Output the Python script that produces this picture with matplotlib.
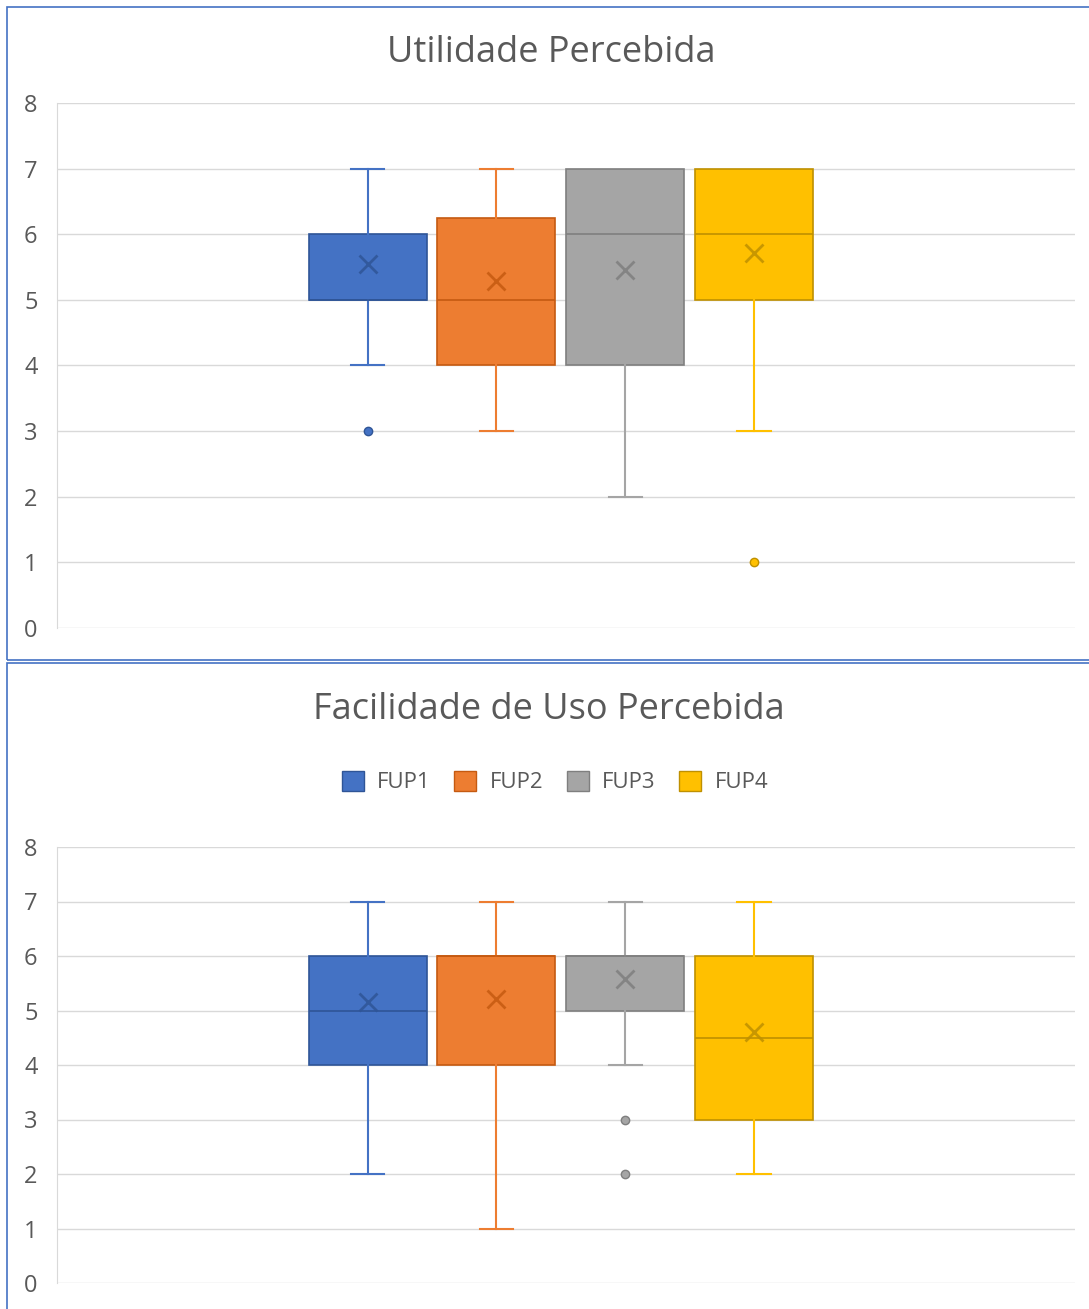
import matplotlib.pyplot as plt
from matplotlib.patches import Patch, Rectangle

plt.rcParams['font.family'] = ['Open Sans', 'DejaVu Sans']

categories = ['FUP1', 'FUP2', 'FUP3', 'FUP4']
fill_colors = ['#4472C4', '#ED7D31', '#A5A5A5', '#FFC000']
edge_colors = ['#2F5597', '#C55A11', '#7F7F7F', '#BF9000']

# Utilidade Percebida
up_q1 = [5, 4, 4, 5]
up_med = [5, 5, 6, 6]
up_q3 = [6, 6.25, 7, 7]
up_lo = [4, 3, 2, 3]
up_hi = [7, 7, 7, 7]
up_mean = [5.55, 5.28, 5.45, 5.72]
up_fliers = [[3], [], [], [1]]

# Facilidade de Uso Percebida
fup_q1 = [4, 4, 5, 3]
fup_med = [5, 6, 6, 4.5]
fup_q3 = [6, 6, 6, 6]
fup_lo = [2, 1, 4, 2]
fup_hi = [7, 7, 7, 7]
fup_mean = [5.15, 5.22, 5.58, 4.6]
fup_fliers = [[], [], [3, 2], []]

W, H = 1089, 1309
fig = plt.figure(figsize=(W / 100, H / 100), dpi=100)
text_color = '#595959'


def draw_boxes(ax, q1, med, q3, lo, hi, mean, fliers):
    positions = range(1, len(categories) + 1)
    for i, pos in enumerate(positions):
        stats = [dict(q1=q1[i], med=med[i], q3=q3[i], whislo=lo[i], whishi=hi[i],
                      mean=mean[i], fliers=fliers[i])]
        fc, ec = fill_colors[i], edge_colors[i]
        parts = ax.bxp(stats, positions=[pos], widths=0.915, capwidths=0.26,
                       patch_artist=True, showmeans=True, manage_ticks=False,
                       boxprops=dict(facecolor=fc, edgecolor=ec, linewidth=1.2),
                       medianprops=dict(color=ec, linewidth=1.2),
                       whiskerprops=dict(color=fc, linewidth=1.5),
                       capprops=dict(color=fc, linewidth=1.5),
                       meanprops=dict(marker='x', markersize=13, markeredgewidth=2,
                                      markeredgecolor=ec, alpha=0.85),
                       flierprops=dict(marker='o', markersize=6, markerfacecolor=fc,
                                       markeredgecolor=ec, markeredgewidth=1))
        # no cap when the whisker has zero length
        if lo[i] == q1[i]:
            parts['caps'][0].set_visible(False)
        if hi[i] == q3[i]:
            parts['caps'][1].set_visible(False)
    ax.set_xlim(-1.41, 6.49)
    ax.set_ylim(0, 8)
    ax.set_yticks(range(0, 9))
    ax.set_xticks([])
    ax.grid(axis='y', color='#D9D9D9', linewidth=1)
    ax.set_axisbelow(True)
    for side in ['top', 'right', 'bottom']:
        ax.spines[side].set_visible(False)
    ax.spines['left'].set_color('#D9D9D9')
    ax.tick_params(axis='y', length=0, labelsize=17, labelcolor=text_color, pad=14)


ax1 = fig.add_axes([57 / W, 1 - 628 / H, 1018 / W, 525 / H])
draw_boxes(ax1, up_q1, up_med, up_q3, up_lo, up_hi, up_mean, up_fliers)

ax2 = fig.add_axes([57 / W, 1 - 1283 / H, 1018 / W, 436 / H])
draw_boxes(ax2, fup_q1, fup_med, fup_q3, fup_lo, fup_hi, fup_mean, fup_fliers)

# chart frames
fig.add_artist(Rectangle((7 / W, 1 - 660 / H), 1.05, 653 / H, transform=fig.transFigure,
                         fill=False, edgecolor='#4472C4', linewidth=1.2))
fig.add_artist(Rectangle((7 / W, -0.05), 1.05, 0.05 + 1 - 663 / H, transform=fig.transFigure,
                         fill=False, edgecolor='#4472C4', linewidth=1.2))

fig.text(551 / W, 1 - 53 / H, 'Utilidade Percebida', ha='center', va='center',
         fontsize=26, color=text_color)
fig.text(549 / W, 1 - 710 / H, 'Facilidade de Uso Percebida', ha='center', va='center',
         fontsize=26, color=text_color)

handles = [Patch(facecolor=fc, edgecolor=ec, linewidth=1) for fc, ec in zip(fill_colors, edge_colors)]
fig.legend(handles, categories, loc='center', bbox_to_anchor=(555 / W, 1 - 782 / H),
           ncol=4, frameon=False, fontsize=16, labelcolor=text_color,
           handlelength=1.0, handleheight=1.0, handletextpad=0.6, columnspacing=1.05)

fig.savefig('out.png', dpi=100)
